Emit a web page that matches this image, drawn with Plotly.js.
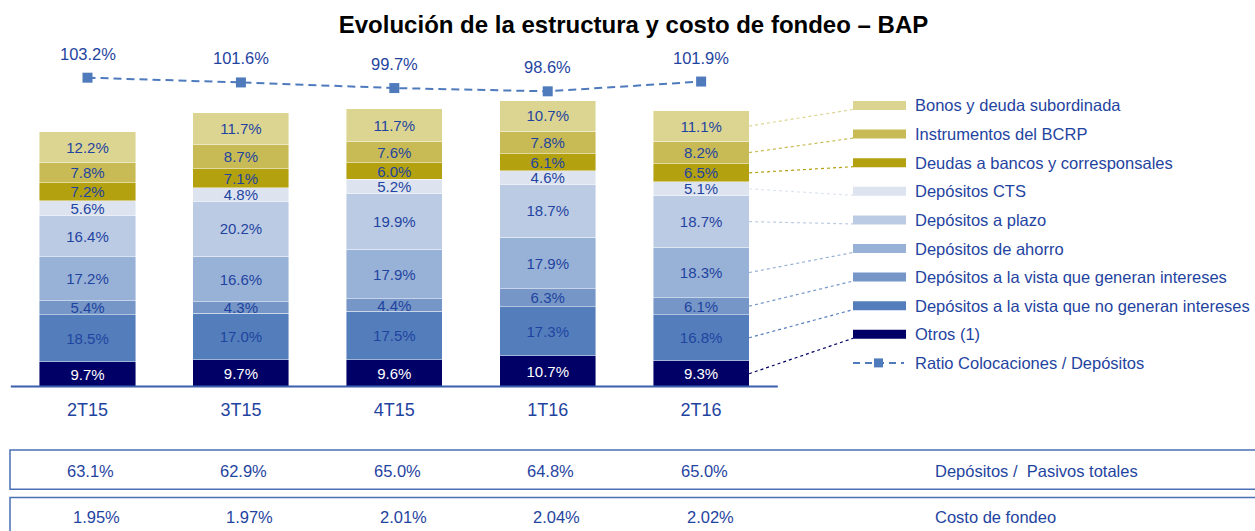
<!DOCTYPE html>
<html>
<head>
<meta charset="utf-8">
<script src="https://cdn.plot.ly/plotly-3.0.1.min.js"></script>
<style>html,body{margin:0;padding:0;background:#fff;}#chart{width:1255px;height:531px;}</style>
</head>
<body>
<div id="chart"></div>
<script>
// ---------- DATA ----------
const categories = ['2T15', '3T15', '4T15', '1T16', '2T16'];
// relative size of total funding (1T16 = 100)
const fondeoTotal = [89.3, 95.8, 97.4, 100, 96.5];
const seriesNames = [
  'Otros (1)',
  'Depósitos a la vista que no generan intereses',
  'Depósitos a la vista que generan intereses',
  'Depósitos de ahorro',
  'Depósitos a plazo',
  'Depósitos CTS',
  'Deudas a bancos y corresponsales',
  'Instrumentos del BCRP',
  'Bonos y deuda subordinada'
];
const otros        = [9.7, 9.7, 9.6, 10.7, 9.3];
const vistaNoInt   = [18.5, 17.0, 17.5, 17.3, 16.8];
const vistaInt     = [5.4, 4.3, 4.4, 6.3, 6.1];
const ahorro       = [17.2, 16.6, 17.9, 17.9, 18.3];
const plazo        = [16.4, 20.2, 19.9, 18.7, 18.7];
const cts          = [5.6, 4.8, 5.2, 4.6, 5.1];
const deudasBancos = [7.2, 7.1, 6.0, 6.1, 6.5];
const bcrp         = [7.8, 8.7, 7.6, 7.8, 8.2];
const bonos        = [12.2, 11.7, 11.7, 10.7, 11.1];
const ratioColDep  = [103.2, 101.6, 99.7, 98.6, 101.9];
const depPasivos   = [63.1, 62.9, 65.0, 64.8, 65.0];
const costoFondeo  = [1.95, 1.97, 2.01, 2.04, 2.02];
const ratioName = 'Ratio Colocaciones / Depósitos';
const rowLabel1 = 'Depósitos /\u00a0 Pasivos totales';
const rowLabel2 = 'Costo de fondeo';
const titleText = 'Evolución de la estructura y costo de fondeo – BAP';

// ---------- STYLE ----------
const W = 1255, H = 531;
const FONT = 'Liberation Sans, Arial, Helvetica, sans-serif';
const BLUE_TXT = '#1f44a0';
const colors = ['#000066', '#547ebb', '#7596c6', '#98b1d6', '#bccbe4', '#dde4f0', '#b3a10f', '#c8bb55', '#dcd591'];
const LINE_COL = '#4f7bbd';
const BOX_COL = '#4a6fb5';
const xr = [-0.5704, 7.6106];
const yr = [-50.61, 135.38];
const y2r = [-49.94, 129.45];
const pxX = px => xr[0] + px / W * (xr[1] - xr[0]);
const pxY = py => yr[1] - py / H * (yr[1] - yr[0]);
const pX = px => px / W;
const pY = py => 1 - py / H;

const seriesVals = [otros, vistaNoInt, vistaInt, ahorro, plazo, cts, deudasBancos, bcrp, bonos];

const traces = seriesVals.map((vals, j) => ({
  type: 'bar',
  name: seriesNames[j],
  x: categories,
  y: vals.map((v, i) => fondeoTotal[i] * v / 100),
  text: vals.map(v => v.toFixed(1) + '%'),
  texttemplate: '%{text}',
  textposition: 'inside',
  insidetextanchor: 'middle',
  textangle: 0,
  insidetextfont: {family: FONT, size: 15, color: j === 0 ? '#ffffff' : BLUE_TXT},
  marker: {color: colors[j], line: {color: 'rgba(255,255,255,0.55)', width: 0.8}},
  showlegend: false,
  hoverinfo: 'skip'
}));

traces.push({
  type: 'scatter',
  mode: 'lines+markers',
  name: ratioName,
  x: categories,
  y: ratioColDep,
  yaxis: 'y2',
  line: {color: LINE_COL, width: 2, dash: '8px,5px'},
  marker: {symbol: 'square', size: 10, color: LINE_COL},
  showlegend: false,
  hoverinfo: 'skip'
});

const shapes = [];
const annotations = [];

// baseline
shapes.push({type: 'line', xref: 'x', yref: 'y', x0: -0.5, x1: 4.5, y0: 0, y1: 0,
  line: {color: '#3b5fae', width: 2}});

// ratio labels
ratioColDep.forEach((v, i) => annotations.push({
  xref: 'x', yref: 'y2', x: categories[i], y: v, yshift: 24, showarrow: false,
  text: v.toFixed(1) + '%', font: {family: FONT, size: 16.5, color: BLUE_TXT}
}));

// legend (manual)
const legTop = 105.5, legStep = 28.6, swX0 = 853, swX1 = 906, txtX = 912.5;
const lastIdx = categories.length - 1;
let base = 0;
seriesVals.forEach((vals, j) => {
  const row = seriesVals.length - 1 - j;
  const cy = legTop + legStep * row;
  shapes.push({type: 'rect', xref: 'paper', yref: 'paper', x0: pX(swX0), x1: pX(swX1),
    y0: pY(cy - 4.5), y1: pY(cy + 4.5), fillcolor: colors[j], line: {width: 0}});
  annotations.push({xref: 'paper', yref: 'paper', x: pX(txtX), y: pY(cy), xanchor: 'left', yanchor: 'middle',
    showarrow: false, text: seriesNames[j], font: {family: FONT, size: 16.5, color: BLUE_TXT}});
  const h = fondeoTotal[lastIdx] * vals[lastIdx] / 100;
  shapes.push({type: 'line', xref: 'x', yref: 'y', x0: lastIdx + 0.313, y0: base + h / 2,
    x1: pxX(swX0), y1: pxY(cy + 4), line: {color: colors[j], width: 1.2, dash: 'dot'}});
  base += h;
});
{
  const cy = legTop + legStep * seriesVals.length;
  shapes.push({type: 'line', xref: 'paper', yref: 'paper', x0: pX(swX0), x1: pX(swX1 - 2), y0: pY(cy), y1: pY(cy),
    line: {color: LINE_COL, width: 2, dash: '7px,5px'}});
  shapes.push({type: 'rect', xref: 'paper', yref: 'paper', x0: pX(874), x1: pX(883), y0: pY(cy - 4.5), y1: pY(cy + 4.5),
    fillcolor: LINE_COL, line: {width: 0}});
  annotations.push({xref: 'paper', yref: 'paper', x: pX(txtX), y: pY(cy), xanchor: 'left', yanchor: 'middle',
    showarrow: false, text: ratioName, font: {family: FONT, size: 16.5, color: BLUE_TXT}});
}

// bottom rows
shapes.push({type: 'rect', xref: 'paper', yref: 'paper', x0: pX(10), x1: pX(1262), y0: pY(489.3), y1: pY(450),
  line: {color: BOX_COL, width: 1.5}, fillcolor: 'rgba(0,0,0,0)'});
shapes.push({type: 'rect', xref: 'paper', yref: 'paper', x0: pX(10), x1: pX(1262), y0: pY(545), y1: pY(497.5),
  line: {color: BOX_COL, width: 1.5}, fillcolor: 'rgba(0,0,0,0)'});
depPasivos.forEach((v, i) => annotations.push({
  xref: 'x', yref: 'paper', x: categories[i], y: pY(470.7), xshift: 3, yanchor: 'middle', showarrow: false,
  text: v.toFixed(1) + '%', font: {family: FONT, size: 16.5, color: BLUE_TXT}
}));
costoFondeo.forEach((v, i) => annotations.push({
  xref: 'x', yref: 'paper', x: categories[i], y: pY(516.7), xshift: 9, yanchor: 'middle', showarrow: false,
  text: v.toFixed(2) + '%', font: {family: FONT, size: 16.5, color: BLUE_TXT}
}));
annotations.push({xref: 'paper', yref: 'paper', x: pX(933), y: pY(470.7), xanchor: 'left', yanchor: 'middle',
  showarrow: false, text: rowLabel1, font: {family: FONT, size: 16.5, color: BLUE_TXT}});
annotations.push({xref: 'paper', yref: 'paper', x: pX(933), y: pY(516.7), xanchor: 'left', yanchor: 'middle',
  showarrow: false, text: rowLabel2, font: {family: FONT, size: 16.5, color: BLUE_TXT}});

const layout = {
  width: W, height: H,
  margin: {l: 0, r: 0, t: 0, b: 0, pad: 0},
  paper_bgcolor: '#ffffff', plot_bgcolor: '#ffffff',
  title: {text: titleText, x: 633.5 / W, xanchor: 'center', y: 1 - 25 / H, yanchor: 'middle', yref: 'container',
    font: {family: FONT, size: 24, color: '#000000', weight: 'bold'}},
  barmode: 'stack',
  bargap: 0.374,
  hovermode: false,
  uniformtext: {mode: 'show', minsize: 15},
  xaxis: {type: 'category', range: xr, anchor: 'free', position: 1 - 386.5 / H,
    showline: false, showgrid: false, zeroline: false, ticks: '', ticklabelstandoff: 10,
    tickfont: {family: FONT, size: 18, color: BLUE_TXT}, fixedrange: true},
  yaxis: {range: yr, visible: false, fixedrange: true},
  yaxis2: {range: y2r, overlaying: 'y', visible: false, fixedrange: true},
  shapes: shapes,
  annotations: annotations,
  showlegend: false
};

Plotly.newPlot('chart', traces, layout, {displayModeBar: false, staticPlot: true});
</script>
</body>
</html>
